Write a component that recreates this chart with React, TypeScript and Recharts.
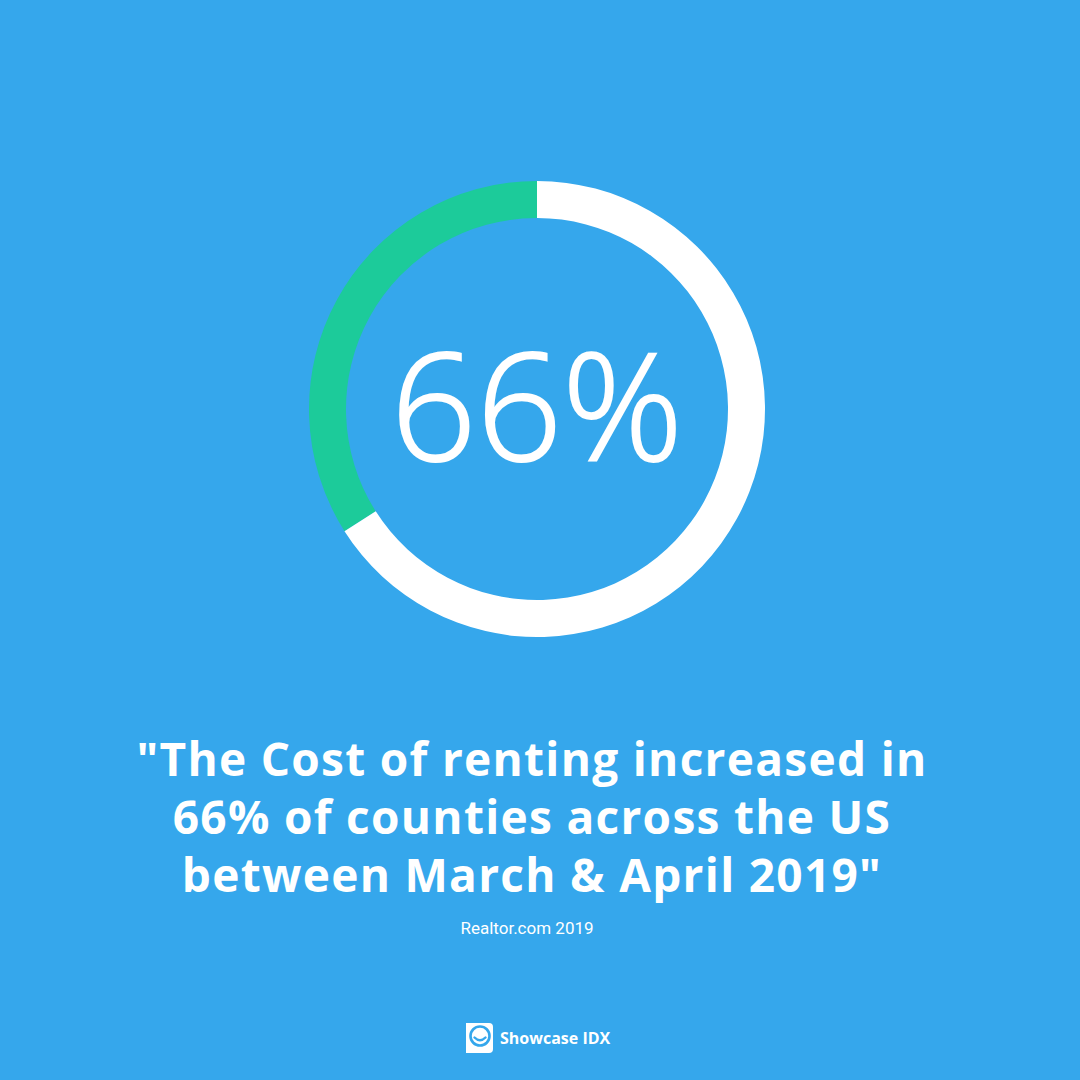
import { PieChart, Pie, Cell } from "recharts";

// share of counties: rent went up vs. not
const slices = ["other", "increased"];
const shares = [34, 66];
const sliceColors = ["#1CCB9A", "#FFFFFF"];

const quoteLines = [
  "\"The Cost of renting increased in",
  "66% of counties across the US",
  "between March & April 2019\"",
];
const source = "Realtor.com 2019";
const brand = "Showcase IDX";

const BG = "#35A7EC";

const data = slices.map((name, i) => ({ name, value: shares[i] }));

export default function App() {
  return (
    <div
      style={{
        position: "absolute",
        left: 0,
        top: 0,
        width: 1080,
        height: 1080,
        background: BG,
        overflow: "hidden",
      }}
    >
      <PieChart
        width={1080}
        height={1080}
        margin={{ top: 0, right: 0, bottom: 0, left: 0 }}
        style={{ position: "absolute", left: 0, top: 0 }}
      >
        <Pie
          data={data}
          dataKey="value"
          nameKey="name"
          cx={537}
          cy={409}
          innerRadius={191}
          outerRadius={228}
          startAngle={90}
          endAngle={450}
          stroke="none"
          isAnimationActive={false}
        >
          {data.map((d, i) => (
            <Cell key={d.name} fill={sliceColors[i]} />
          ))}
        </Pie>
      </PieChart>

      {/* text + logo on top */}
      <svg
        width={1080}
        height={1080}
        style={{ position: "absolute", left: 0, top: 0 }}
      >
        <text
          x={537}
          y={461}
          textAnchor="middle"
          fill="#fff"
          stroke="#fff"
          strokeWidth={2}
          fontFamily="'Open Sans', sans-serif"
          fontWeight={300}
          fontSize={150}
        >
          {shares[1]}%
        </text>

        {quoteLines.map((line, i) => (
          <text
            key={i}
            x={532}
            y={776 + i * 58}
            textAnchor="middle"
            fill="#fff"
            fontFamily="'Open Sans', sans-serif"
            fontWeight={700}
            fontSize={46}
            letterSpacing={1.3}
          >
            {line}
          </text>
        ))}

        <text
          x={527}
          y={934}
          textAnchor="middle"
          fill="#fff"
          fontFamily="Roboto, sans-serif"
          fontSize={17}
        >
          {source}
        </text>

        {/* logo mark */}
        <path
          d="M466 1023 H489 Q493 1023 493 1027 V1049 Q493 1053 489 1053 H466 Z"
          fill="#fff"
        />
        <circle cx={480} cy={1036} r={9.5} fill="none" stroke={BG} strokeWidth={2.6} />
        <path d="M474.5 1037.5 Q480 1043 485.5 1037.5" fill="none" stroke={BG} strokeWidth={2.4} strokeLinecap="round" />

        <text
          x={500}
          y={1044}
          fill="#fff"
          fontFamily="'Open Sans', sans-serif"
          fontWeight={700}
          fontSize={16}
        >
          {brand}
        </text>
      </svg>
    </div>
  );
}
